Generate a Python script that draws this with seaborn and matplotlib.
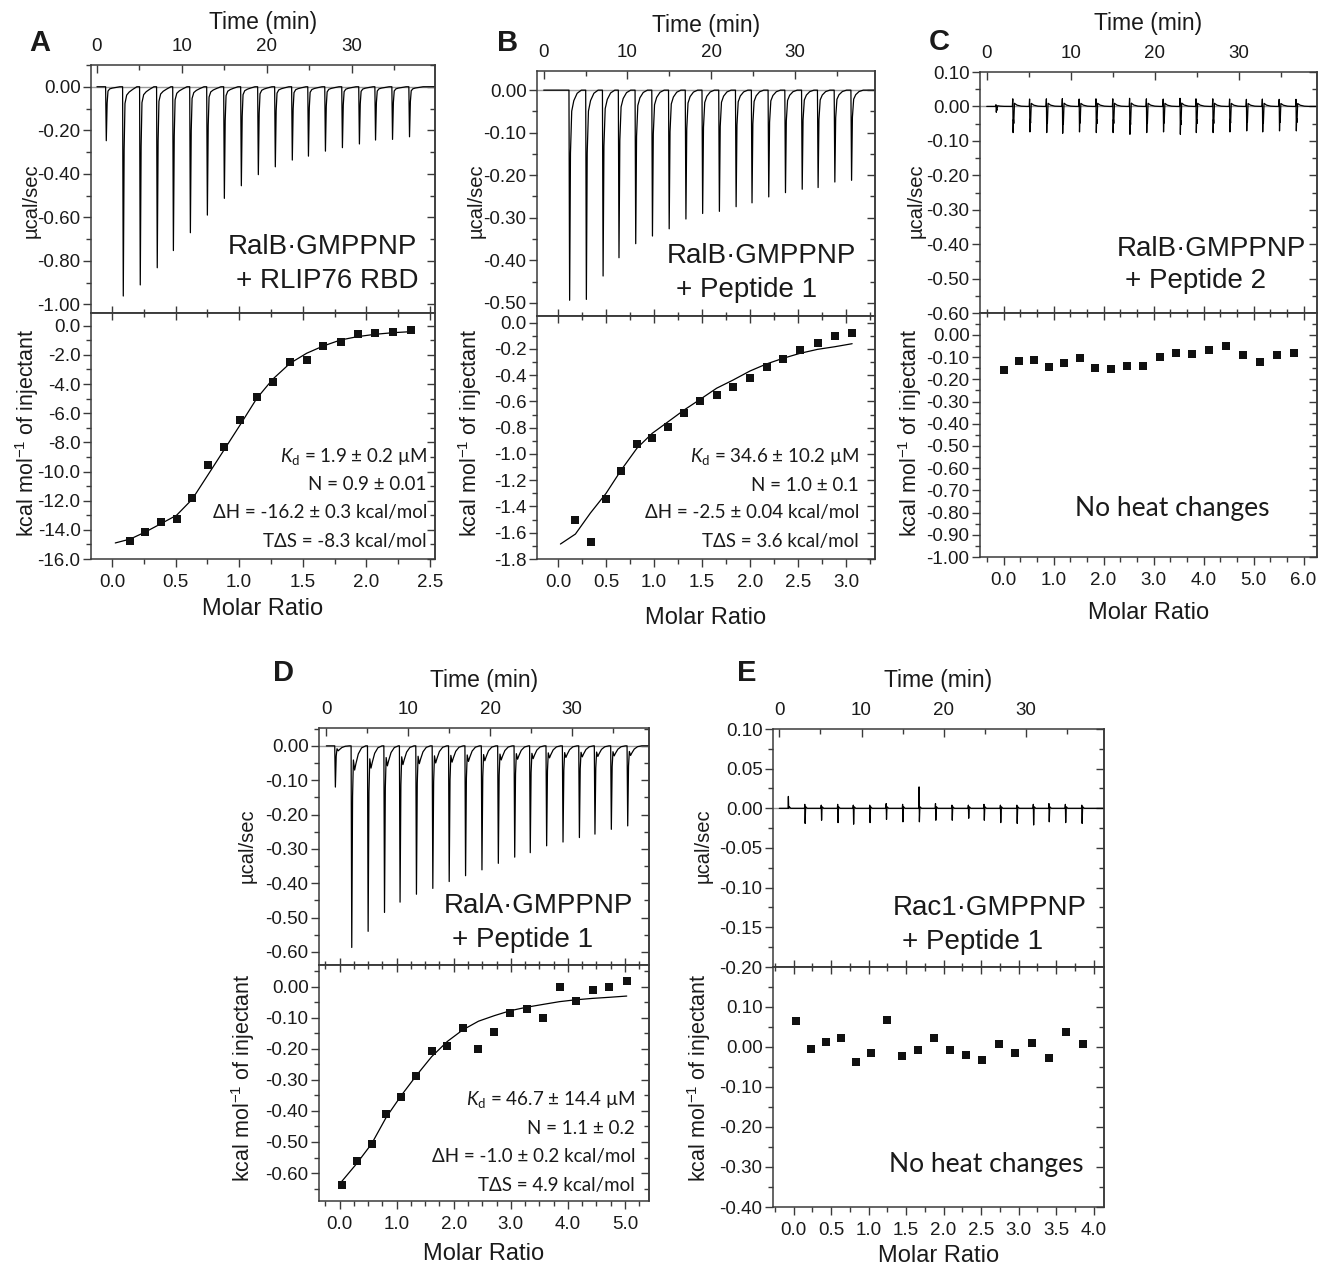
import numpy as np
import pandas as pd
import matplotlib
matplotlib.use("Agg")
import matplotlib.pyplot as plt
from matplotlib.ticker import MultipleLocator, FormatStrFormatter
import seaborn as sns

W, H = 1319, 1267

# injection times (min), same schedule in all runs
inj_times = [1.1, 3.1, 5.1, 7.1, 9.0, 11.0, 13.0, 15.0, 17.0, 19.0, 21.0,
             23.0, 24.9, 26.9, 28.9, 30.9, 32.8, 34.8, 36.8]

# peak shapes (offset in min, fraction of peak depth)
shape_t_A = [-0.08, 0.0, 0.1, 0.2, 0.4, 0.7, 1.1, 1.6]
shape_f_A = [0, -1, -0.3, -0.08, -0.04, -0.025, -0.013, 0]
shape_t_B = [-0.08, 0.0, 0.1, 0.25, 0.5, 0.9, 1.4]
shape_f_B = [0, -1, -0.3, -0.1, -0.05, -0.015, 0]
shape_t_C = [-0.05, 0.0, 0.04, 0.08, 0.12, 0.2, 0.5, 1.0, 1.6]
shape_f_C = [0, 0.29, -1.0, -0.5, -0.65, 0.12, 0.05, 0.01, 0]
shape_t_D = [-0.08, 0.0, 0.1, 0.2, 0.35, 0.5, 0.8, 1.2, 1.7]
shape_f_D = [0, -1, -0.25, -0.07, -0.12, -0.09, -0.04, -0.01, 0]
shape_t_E = [-0.04, 0.0, 0.04, 0.1, 0.3]

# A: RalB-GMPPNP + RLIP76 RBD
a_depth = [0.248, 0.962, 0.911, 0.832, 0.753, 0.671, 0.590, 0.513, 0.455, 0.404,
           0.368, 0.337, 0.319, 0.296, 0.280, 0.263, 0.245, 0.242, 0.230]
a_ratio = [0.144, 0.262, 0.385, 0.508, 0.631, 0.757, 0.882, 1.008, 1.139, 1.264,
           1.400, 1.531, 1.662, 1.798, 1.932, 2.070, 2.210, 2.350]
a_heat = [-14.77, -14.13, -13.49, -13.28, -11.82, -9.54, -8.33, -6.48, -4.86, -3.83,
          -2.47, -2.33, -1.37, -1.10, -0.59, -0.48, -0.41, -0.27]
a_fit_x = [0.026, 0.144, 0.262, 0.385, 0.508, 0.631, 0.757, 0.882, 1.008, 1.139,
           1.264, 1.400, 1.531, 1.662, 1.798, 1.932, 2.070, 2.210, 2.350]
a_fit_y = [-14.90, -14.63, -14.15, -13.58, -13.00, -11.90, -10.20, -8.51, -6.80, -4.98,
           -3.67, -2.58, -1.89, -1.39, -0.98, -0.75, -0.59, -0.48, -0.41]

# B: RalB-GMPPNP + Peptide 1
b_depth = [0.0, 0.494, 0.492, 0.437, 0.394, 0.361, 0.343, 0.326, 0.303, 0.290,
           0.285, 0.274, 0.265, 0.251, 0.241, 0.233, 0.229, 0.216, 0.212]
b_ratio = [0.180, 0.340, 0.499, 0.659, 0.822, 0.981, 1.148, 1.314, 1.481, 1.651,
           1.824, 1.998, 2.171, 2.344, 2.521, 2.702, 2.882, 3.062]
b_heat = [-1.506, -1.668, -1.341, -1.126, -0.923, -0.875, -0.791, -0.685, -0.593, -0.550,
          -0.489, -0.418, -0.335, -0.279, -0.208, -0.152, -0.101, -0.079]
b_fit_x = [0.024, 0.180, 0.336, 0.499, 0.659, 0.822, 0.981, 1.148, 1.314, 1.481,
           1.651, 1.824, 1.998, 2.171, 2.344, 2.521, 2.702, 2.882, 3.062]
b_fit_y = [-1.686, -1.61, -1.45, -1.30, -1.12, -0.955, -0.842, -0.753, -0.664, -0.583,
           -0.499, -0.436, -0.368, -0.314, -0.271, -0.233, -0.203, -0.183, -0.160]

# C: RalB-GMPPNP + Peptide 2
c_depth = [0.017, 0.076, 0.074, 0.076, 0.078, 0.074, 0.076, 0.076, 0.081, 0.076,
           0.074, 0.081, 0.076, 0.076, 0.074, 0.071, 0.074, 0.071, 0.071]
c_ratio = [0.0, 0.307, 0.607, 0.913, 1.213, 1.52, 1.833, 2.147, 2.467, 2.793,
           3.12, 3.44, 3.767, 4.107, 4.447, 4.787, 5.12, 5.467, 5.813]
c_heat = [-0.156, -0.116, -0.113, -0.142, -0.127, -0.104, -0.150, -0.151, -0.140, -0.140,
          -0.097, -0.082, -0.086, -0.069, -0.051, -0.091, -0.121, -0.091, -0.079]

# D: RalA-GMPPNP + Peptide 1
d_depth = [0.120, 0.587, 0.540, 0.485, 0.455, 0.432, 0.415, 0.395, 0.378, 0.361,
           0.342, 0.324, 0.311, 0.291, 0.280, 0.267, 0.257, 0.243, 0.233]
d_ratio = [0.047, 0.298, 0.561, 0.819, 1.082, 1.345, 1.614, 1.889, 2.158, 2.433,
           2.713, 2.994, 3.275, 3.561, 3.854, 4.140, 4.433, 4.725, 5.030]
d_heat = [-0.640, -0.5625, -0.508, -0.411, -0.354, -0.288, -0.208, -0.190, -0.132, -0.199,
          -0.145, -0.0836, -0.0729, -0.102, -0.002, -0.045, -0.0096, -0.002, 0.017]
d_fit_x = [0.029, 0.298, 0.561, 0.819, 1.082, 1.345, 1.614, 1.889, 2.158, 2.433,
           2.713, 2.994, 3.275, 3.561, 3.854, 4.140, 4.433, 4.725, 5.030]
d_fit_y = [-0.629, -0.570, -0.506, -0.420, -0.350, -0.286, -0.225, -0.176, -0.139, -0.111,
           -0.093, -0.077, -0.066, -0.057, -0.048, -0.042, -0.0375, -0.034, -0.030]

# E: Rac1-GMPPNP + Peptide 1
e_up = [0.015, 0.005, 0.004, 0.005, 0.004, 0.004, 0.006, 0.005, 0.027, 0.006,
        0.004, 0.004, 0.005, 0.004, 0.004, 0.005, 0.006, 0.005, 0.004]
e_down = [0.0, 0.019, 0.015, 0.018, 0.020, 0.018, 0.014, 0.017, 0.017, 0.015,
          0.015, 0.0125, 0.015, 0.018, 0.019, 0.021, 0.017, 0.018, 0.019]
e_ratio = [0.036, 0.236, 0.431, 0.631, 0.836, 1.036, 1.24, 1.449, 1.658, 1.871,
           2.084, 2.293, 2.511, 2.733, 2.956, 3.178, 3.40, 3.631, 3.858]
e_heat = [0.065, -0.005, 0.011, 0.022, -0.0375, -0.016, 0.0675, -0.023, -0.0075, 0.0225,
          -0.0075, -0.021, -0.032, 0.0075, -0.0167, 0.010, -0.029, 0.0375, 0.0075]


INK = "#1a1a1a"
SPINE = "#3a3a3a"


def px_rect(x0, y0, x1, y1):
    return [x0 / W, 1 - y1 / H, (x1 - x0) / W, (y1 - y0) / H]


def build_trace(times, levels, offsets, t_end):
    t = [0.0]
    y = [0.0]
    for t0, lev in zip(times, levels):
        for dt, v in zip(offsets, lev):
            t.append(t0 + dt)
            y.append(v)
    t.append(t_end)
    y.append(0.0)
    return pd.DataFrame({"time": t, "power": y})


def style_axis(ax, xmaj, xmin, ymaj, ymin, xfmt, yfmt, upper, xpad_label):
    ax.xaxis.set_major_locator(MultipleLocator(xmaj))
    ax.xaxis.set_minor_locator(MultipleLocator(xmin))
    ax.yaxis.set_major_locator(MultipleLocator(ymaj))
    ax.yaxis.set_minor_locator(MultipleLocator(ymin))
    ax.xaxis.set_major_formatter(FormatStrFormatter(xfmt))
    ax.yaxis.set_major_formatter(FormatStrFormatter(yfmt))
    for s in ax.spines.values():
        s.set_visible(True)
        s.set_color(SPINE)
        s.set_linewidth(1.1)
    ax.tick_params(axis="both", which="both", colors=SPINE, labelcolor=INK,
                   labelsize=13.5, width=1.0)
    ax.tick_params(axis="both", which="major", length=6)
    ax.tick_params(axis="both", which="minor", length=3.5)
    ax.tick_params(axis="y", which="both", direction="out", left=True, right=False, pad=1.5)
    sec = ax.secondary_yaxis("right")
    sec.yaxis.set_major_locator(MultipleLocator(ymaj))
    sec.yaxis.set_minor_locator(MultipleLocator(ymin))
    sec.tick_params(axis="y", which="both", direction="in", labelright=False,
                    colors=SPINE, width=1.0)
    sec.tick_params(axis="y", which="major", length=6)
    sec.tick_params(axis="y", which="minor", length=3.5)
    sec.spines["right"].set_color(SPINE)
    sec.spines["right"].set_linewidth(1.1)
    if upper:
        ax.xaxis.tick_top()
        ax.xaxis.set_label_position("top")
        ax.tick_params(axis="x", which="both", direction="in", top=True, bottom=False,
                       labeltop=True, labelbottom=False, pad=7)
        ax.set_xlabel("Time (min)", fontsize=16.5, color=INK, labelpad=xpad_label)
    else:
        ax.tick_params(axis="x", which="both", direction="out", top=False, bottom=True,
                       labelbottom=True, labeltop=False, pad=5)
        ax.set_xlabel("Molar Ratio", fontsize=17, color=INK, labelpad=xpad_label)
        sec2 = ax.secondary_xaxis("top")
        sec2.xaxis.set_major_locator(MultipleLocator(xmaj))
        sec2.xaxis.set_minor_locator(MultipleLocator(xmin))
        sec2.tick_params(axis="x", which="both", direction="inout", labeltop=False,
                         colors=SPINE, width=1.0)
        sec2.tick_params(axis="x", which="major", length=10)
        sec2.tick_params(axis="x", which="minor", length=6)
        sec2.spines["top"].set_color(SPINE)
        sec2.spines["top"].set_linewidth(1.1)


def set_ylab(ax, text, size, px, py, box):
    x0, y0, x1, y1 = box
    ax.set_ylabel(text, fontsize=size, color=INK)
    ax.yaxis.set_label_coords((px - x0) / (x1 - x0), 1 - (py - y0) / (y1 - y0))
    ax.yaxis.label.set_verticalalignment("center")


sns.set_theme(style="ticks")
plt.rcParams["font.family"] = ["Liberation Sans", "DejaVu Sans"]
plt.rcParams["axes.unicode_minus"] = False
plt.rcParams["mathtext.fontset"] = "custom"
plt.rcParams["mathtext.rm"] = "Liberation Sans"
plt.rcParams["mathtext.it"] = "Lato:italic"
plt.rcParams["mathtext.sf"] = "Lato"

fig = plt.figure(figsize=(W / 100, H / 100), dpi=100)

STAT_FONT = ["Lato", "Noto Sans", "DejaVu Sans"]


def ftext(x, y, s, **kw):
    fig.text(x / W, 1 - y / H, s, **kw)


panels = [
    dict(name="A", up_box=(91, 65, 435, 313), lo_box=(91, 313, 435, 559),
         xlim_up=(-0.7, 39.8), ylim_up=(-1.04, 0.10), ymaj_up=0.2, ymin_up=0.1,
         xlim_lo=(-0.165, 2.54), ylim_lo=(-16.0, 0.87), xmaj_lo=0.5, xmin_lo=0.25,
         ymaj_lo=2.0, ymin_lo=1.0, xfmt_lo="%.1f", yfmt_lo="%.1f",
         trace=build_trace(inj_times, np.outer(a_depth, shape_f_A), shape_t_A, 39.8),
         ratio=a_ratio, heat=a_heat, fit=(a_fit_x, a_fit_y),
         tpad=7, mpad=5, ylab_up=(31, 201), ylab_lo=(27, 432.5)),
    dict(name="B", up_box=(537, 71, 875, 316), lo_box=(537, 316, 875, 559),
         xlim_up=(-0.8, 39.6), ylim_up=(-0.531, 0.045), ymaj_up=0.1, ymin_up=0.05,
         xlim_lo=(-0.22, 3.30), ylim_lo=(-1.8, 0.051), xmaj_lo=0.5, xmin_lo=0.25,
         ymaj_lo=0.2, ymin_lo=0.1, xfmt_lo="%.1f", yfmt_lo="%.1f",
         trace=build_trace(inj_times, np.outer(b_depth, shape_f_B), shape_t_B, 39.6),
         ratio=b_ratio, heat=b_heat, fit=(b_fit_x, b_fit_y),
         tpad=9, mpad=11, ylab_up=(475.8, 201), ylab_lo=(470, 432.5)),
    dict(name="C", up_box=(980, 72, 1317, 313), lo_box=(980, 313, 1317, 557),
         xlim_up=(-0.8, 39.3), ylim_up=(-0.60, 0.10), ymaj_up=0.1, ymin_up=0.05,
         xlim_lo=(-0.47, 6.27), ylim_lo=(-1.0, 0.099), xmaj_lo=1.0, xmin_lo=1.0 / 3,
         ymaj_lo=0.1, ymin_lo=0.05, xfmt_lo="%.1f", yfmt_lo="%.2f",
         trace=build_trace(inj_times, np.outer(c_depth, shape_f_C), shape_t_C, 39.3),
         ratio=c_ratio, heat=c_heat, fit=None,
         tpad=11, mpad=9, ylab_up=(915.8, 201), ylab_lo=(910.8, 432.5)),
    dict(name="D", up_box=(319, 728, 649, 965), lo_box=(319, 965, 649, 1201),
         xlim_up=(-0.9, 39.4), ylim_up=(-0.638, 0.052), ymaj_up=0.1, ymin_up=0.05,
         xlim_lo=(-0.36, 5.42), ylim_lo=(-0.69, 0.070), xmaj_lo=1.0, xmin_lo=0.25,
         ymaj_lo=0.1, ymin_lo=0.05, xfmt_lo="%.1f", yfmt_lo="%.2f",
         trace=build_trace(inj_times, np.outer(d_depth, shape_f_D), shape_t_D, 39.4),
         ratio=d_ratio, heat=d_heat, fit=(d_fit_x, d_fit_y),
         tpad=10, mpad=7, ylab_up=(246.7, 845.8), ylab_lo=(243, 1078)),
    dict(name="E", up_box=(773, 729, 1104, 967), lo_box=(773, 967, 1104, 1207),
         xlim_up=(-0.77, 39.5), ylim_up=(-0.20, 0.10), ymaj_up=0.05, ymin_up=0.025,
         xlim_lo=(-0.275, 4.14), ylim_lo=(-0.40, 0.199), xmaj_lo=0.5, xmin_lo=0.25,
         ymaj_lo=0.1, ymin_lo=0.05, xfmt_lo="%.1f", yfmt_lo="%.2f",
         trace=build_trace(inj_times,
                           [[0, u, -d, 0.002, 0] for u, d in zip(e_up, e_down)],
                           shape_t_E, 39.5),
         ratio=e_ratio, heat=e_heat, fit=None,
         tpad=11, mpad=4, ylab_up=(703, 845.8), ylab_lo=(699, 1078)),
]

for p in panels:
    ax_up = fig.add_axes(px_rect(*p["up_box"]))
    ax_lo = fig.add_axes(px_rect(*p["lo_box"]))

    ax_up.axhline(0, color="#9a9a9a", lw=1.0, zorder=1)
    sns.lineplot(data=p["trace"], x="time", y="power", sort=False, estimator=None,
                 color="black", lw=0.9, ax=ax_up, zorder=2)
    ax_up.set_xlim(*p["xlim_up"])
    ax_up.set_ylim(*p["ylim_up"])
    style_axis(ax_up, 10, 5, p["ymaj_up"], p["ymin_up"], "%d", "%.2f", True, p["tpad"])
    set_ylab(ax_up, "µcal/sec", 14.5, *p["ylab_up"], p["up_box"])

    sns.scatterplot(x=p["ratio"], y=p["heat"], marker="s", s=38, color="#111111",
                    linewidth=0, ax=ax_lo, zorder=3)
    if p["fit"] is not None:
        sns.lineplot(x=p["fit"][0], y=p["fit"][1], sort=False, estimator=None,
                     color="black", lw=0.9, ax=ax_lo, zorder=2)
    ax_lo.set_xlim(*p["xlim_lo"])
    ax_lo.set_ylim(*p["ylim_lo"])
    style_axis(ax_lo, p["xmaj_lo"], p["xmin_lo"], p["ymaj_lo"], p["ymin_lo"],
               p["xfmt_lo"], p["yfmt_lo"], False, p["mpad"])
    set_ylab(ax_lo, "kcal mol$^{-1}$ of injectant", 15.5, *p["ylab_lo"], p["lo_box"])

# panel letters
for letter, x, y in [("A", 29, 50.7), ("B", 496.7, 50.7), ("C", 929, 50),
                     ("D", 272.7, 680.7), ("E", 736.7, 680.7)]:
    ftext(x, y, letter, fontsize=21, fontweight="bold", color=INK, va="baseline")

# complex labels
ann = dict(fontsize=20, color=INK, va="baseline")
ftext(417, 254, "RalB·GMPPNP", ha="right", **ann)
ftext(419, 288, "+ RLIP76 RBD", ha="right", **ann)
ftext(666.7, 263, "RalB·GMPPNP", ha="left", **ann)
ftext(676, 297, "+ Peptide 1", ha="left", **ann)
ftext(1116.7, 256, "RalB·GMPPNP", ha="left", **ann)
ftext(1125, 288, "+ Peptide 2", ha="left", **ann)
ftext(444, 913, "RalA·GMPPNP", ha="left", **ann)
ftext(451.7, 947, "+ Peptide 1", ha="left", **ann)
ftext(892.7, 915, "Rac1·GMPPNP", ha="left", **ann)
ftext(901.7, 949, "+ Peptide 1", ha="left", **ann)

# fit results
st = dict(fontsize=13.5, color=INK, va="baseline", ha="right", family=STAT_FONT)
stats = [
    (427, [461.7, 490, 518, 547],
     [r"$K_{\mathsf{d}}$ = 1.9 ± 0.2 µM", "N = 0.9 ± 0.01",
      "ΔH = -16.2 ± 0.3 kcal/mol", "TΔS = -8.3 kcal/mol"]),
    (859, [462, 491, 518, 547],
     [r"$K_{\mathsf{d}}$ = 34.6 ± 10.2 µM", "N = 1.0 ± 0.1",
      "ΔH = -2.5 ± 0.04 kcal/mol", "TΔS = 3.6 kcal/mol"]),
    (635, [1105, 1134, 1162, 1190.7],
     [r"$K_{\mathsf{d}}$ = 46.7 ± 14.4 µM", "N = 1.1 ± 0.2",
      "ΔH = -1.0 ± 0.2 kcal/mol", "TΔS = 4.9 kcal/mol"]),
]
for xr, ys, lines in stats:
    for y, s in zip(ys, lines):
        ftext(xr, y, s, **st)

nh = dict(fontsize=19, color=INK, va="baseline", ha="left", family=STAT_FONT)
ftext(1075, 516, "No heat changes", **nh)
ftext(889, 1171.7, "No heat changes", **nh)

fig.savefig("out.png", dpi=100)
